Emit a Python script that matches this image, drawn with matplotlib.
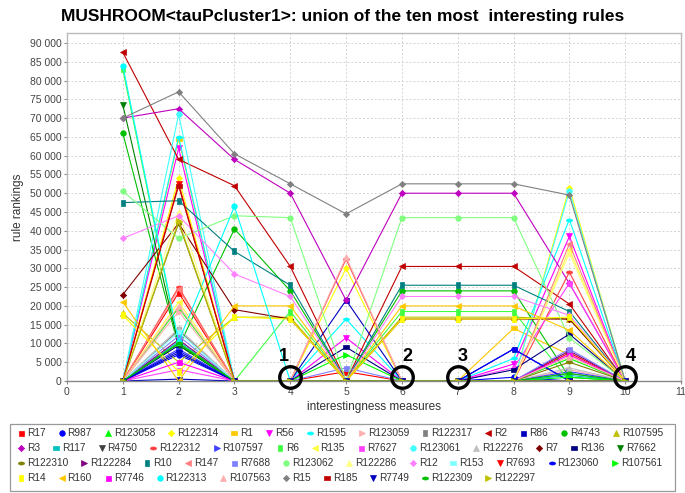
import matplotlib
matplotlib.use("Agg")
import matplotlib.pyplot as plt
import numpy as np
from matplotlib.ticker import FuncFormatter, MultipleLocator

plt.rcParams['font.family'] = ['Liberation Sans', 'DejaVu Sans']

# x positions (interestingness measures)
measures = [1, 2, 3, 4, 5, 6, 7, 8, 9, 10]

# rule names, in legend order
rule_names = ["R17", "R987", "R123058", "R122314", "R1", "R56", "R1595", "R123059",
              "R122317", "R2", "R86", "R4743", "R107595",
              "R3", "R117", "R4750", "R122312", "R107597", "R6", "R135", "R7627",
              "R123061", "R122276", "R7", "R136", "R7662",
              "R122310", "R122284", "R10", "R147", "R7688", "R123062", "R122286",
              "R12", "R153", "R7693", "R123060", "R107561",
              "R14", "R160", "R7746", "R122313", "R107563", "R15", "R185", "R7749",
              "R122309", "R122297"]

# rankings of each rule for measures 1..10
rankings = [
    [0, 23500, 0, 0, 2500, 0, 0, 0, 7500, 0],            # R17
    [0, 7000, 0, 0, 0, 0, 0, 1000, 0, 0],                # R987
    [0, 19500, 0, 0, 0, 0, 0, 0, 6000, 0],               # R123058
    [0, 54000, 0, 0, 30000, 0, 0, 0, 51500, 0],          # R122314
    [0, 64500, 0, 0, 0, 0, 0, 14000, 7000, 0],           # R1
    [0, 62000, 0, 0, 11500, 0, 0, 4500, 38500, 0],       # R56
    [0, 65000, 0, 0, 16500, 0, 0, 6000, 43000, 0],       # R1595
    [0, 18500, 0, 0, 0, 0, 0, 0, 3000, 0],               # R123059
    [0, 13500, 0, 0, 0, 0, 0, 0, 2000, 0],               # R122317
    [87500, 59000, 52000, 30500, 0, 30500, 30500, 30500, 20500, 0],  # R2
    [0, 500, 0, 0, 21500, 0, 0, 8500, 0, 0],             # R86
    [66000, 9000, 40500, 24000, 0, 24000, 24000, 24000, 1000, 0],    # R4743
    [18000, 5000, 17000, 17000, 0, 17000, 17000, 17000, 16500, 0],   # R107595
    [70000, 72500, 59000, 50000, 21500, 50000, 50000, 50000, 26000, 0],  # R3
    [0, 10500, 0, 0, 0, 0, 0, 0, 1500, 0],               # R117
    [0, 10000, 0, 0, 0, 0, 0, 0, 0, 0],                  # R4750
    [0, 25000, 0, 0, 32500, 0, 0, 0, 29000, 0],          # R122312
    [0, 8500, 0, 0, 0, 0, 0, 0, 2500, 0],                # R107597
    [83000, 10000, 0, 18500, 0, 18500, 18500, 18500, 0, 0],  # R6
    [0, 21000, 0, 0, 0, 0, 0, 0, 35000, 0],              # R135
    [0, 3000, 0, 0, 0, 0, 0, 3500, 26000, 0],            # R7627
    [0, 71000, 0, 0, 0, 0, 0, 0, 50500, 0],              # R123061
    [0, 14000, 0, 0, 0, 0, 0, 0, 3500, 0],               # R122276
    [23000, 42000, 19000, 16500, 0, 16500, 16500, 16500, 16500, 0],  # R7
    [0, 9500, 0, 0, 9000, 0, 0, 3000, 12500, 0],         # R136
    [73500, 9500, 0, 0, 0, 0, 0, 0, 0, 0],               # R7662
    [0, 42000, 0, 0, 0, 0, 0, 0, 5000, 0],               # R122310
    [0, 11000, 0, 0, 0, 0, 0, 0, 8000, 0],               # R122284
    [47500, 48000, 34500, 25500, 0, 25500, 25500, 25500, 18500, 0],  # R10
    [0, 24500, 0, 0, 0, 0, 0, 0, 36500, 0],              # R147
    [0, 12000, 0, 0, 3500, 0, 0, 0, 8500, 0],            # R7688
    [50500, 38000, 44000, 43500, 0, 43500, 43500, 43500, 11500, 0],  # R123062
    [0, 45000, 0, 0, 0, 0, 0, 0, 34000, 0],              # R122286
    [38000, 44000, 28500, 22500, 0, 22500, 22500, 22500, 17500, 0],  # R12
    [0, 13000, 0, 0, 0, 0, 0, 0, 0, 0],                  # R153
    [0, 52500, 0, 0, 0, 0, 0, 0, 0, 0],                  # R7693
    [0, 8000, 0, 0, 0, 0, 0, 8500, 0, 0],                # R123060
    [0, 10000, 0, 0, 7000, 0, 0, 0, 1000, 0],            # R107561
    [17500, 2500, 17000, 16500, 0, 16500, 16500, 16500, 17000, 0],   # R14
    [21000, 0, 20000, 20000, 0, 20000, 20000, 20000, 13500, 0],      # R160
    [0, 5000, 0, 0, 0, 0, 0, 0, 7000, 0],                # R7746
    [84000, 10500, 46500, 0, 0, 0, 0, 0, 0, 0],          # R122313
    [0, 20000, 0, 0, 33000, 0, 0, 0, 6500, 0],           # R107563
    [70000, 77000, 60500, 52500, 44500, 52500, 52500, 52500, 49500, 0],  # R15
    [0, 52000, 0, 0, 0, 0, 0, 0, 0, 0],                  # R185
    [0, 7500, 0, 0, 0, 0, 0, 0, 0, 0],                   # R7749
    [0, 10000, 0, 0, 0, 0, 0, 0, 2000, 0],               # R122309
    [0, 42500, 0, 0, 0, 0, 0, 0, 0, 0],                  # R122297
]

# highlighted measures (circled points) and their labels
circled_x = [4, 6, 7, 10]
circled_labels = ["1", "2", "3", "4"]

# legend rows (how many entries on each line)
legend_rows = [13, 13, 12, 10]

# java-style colour cycle
palette = ["#FF0000", "#0000FF", "#00FF00", "#FFFF00", "#FFC800", "#FF00FF",
           "#00FFFF", "#FFAFAF", "#808080",
           "#C00000", "#0000C0", "#00C000", "#C0C000", "#C000C0", "#00C0C0",
           "#404040",
           "#FF4040", "#4040FF", "#40FF40", "#FFFF40", "#FF40FF", "#40FFFF",
           "#C0C0C0",
           "#800000", "#000080", "#008000", "#808000", "#800080", "#008080",
           "#FF8080", "#8080FF", "#80FF80", "#FFFF80", "#FF80FF", "#80FFFF"]

hrect = [(-1, -0.5), (1, -0.5), (1, 0.5), (-1, 0.5), (-1, -0.5)]
vrect = [(-0.5, -1), (0.5, -1), (0.5, 1), (-0.5, 1), (-0.5, -1)]
t = np.linspace(0, 2 * np.pi, 25)
hell = list(zip(np.cos(t), 0.5 * np.sin(t)))
shapes = ['s', 'o', '^', 'D', hrect, 'v', hell, '>', vrect, '<']
sizes = [3.6, 4.0, 4.2, 3.2, 4.4, 4.2, 4.4, 4.2, 4.4, 4.2]

fig = plt.figure(figsize=(6.85, 4.93), dpi=100)
ax = fig.add_axes([67 / 685, 1 - 381 / 493, 614 / 685, 348 / 493])

for i, (name, vals) in enumerate(zip(rule_names, rankings)):
    c = palette[i % len(palette)]
    m = shapes[i % len(shapes)]
    ax.plot(measures, vals, color=c, lw=0.8, marker=m,
            markersize=sizes[i % len(shapes)], markeredgewidth=0.5,
            markeredgecolor=c, label=name, zorder=2 + i * 0.01)

ax.set_xlim(0, 11)
ax.set_ylim(0, 92660)
ax.xaxis.set_major_locator(MultipleLocator(1))
ax.yaxis.set_major_locator(MultipleLocator(5000))
ax.yaxis.set_major_formatter(FuncFormatter(lambda v, p: f"{int(v):,}".replace(",", " ")))
ax.tick_params(labelsize=7.5, length=2, color='#888888', labelcolor='#444444', pad=2)
ax.grid(True, color='#d4d4d4', lw=0.7, linestyle=(0, (2, 2)))
ax.set_axisbelow(True)
for s in ax.spines.values():
    s.set_color('#bbbbbb')
    s.set_linewidth(1.0)
ax.spines['bottom'].set_color('#888888')

ax.set_xlabel("interestingness measures", fontsize=8.5, color='#333333', labelpad=3)
ax.set_ylabel("rule rankings", fontsize=8.5, color='#333333', labelpad=4)

fig.text(0.5, 1 - 17 / 493, "MUSHROOM<tauPcluster1>: union of the ten most  interesting rules",
         ha='center', va='center', fontsize=12.5, fontweight='bold')

# circled points
dx = [-6, 5, 5, 6]
for k, xv in enumerate(circled_x):
    ax.plot([xv], [1000], marker='o', markersize=15.5, mfc='none', mec='black',
            mew=2.4, clip_on=False, zorder=10)
    ax.annotate(circled_labels[k], (xv, 1000), xytext=(dx[k] * 0.72, 15),
                textcoords='offset points', ha='center', va='center',
                fontsize=13, fontweight='bold', zorder=11, annotation_clip=False)

# legend drawn as a flowing block (left aligned rows)
lax = fig.add_axes([0, 0, 1, 1])
lax.set_xlim(0, 685)
lax.set_ylim(493, 0)
lax.axis('off')
lax.add_patch(plt.Rectangle((10, 424), 665, 67, fill=False, ec='#999999', lw=0.9))

fig.canvas.draw()
r = fig.canvas.get_renderer()
px_per_unit = fig.bbox.width / 685

texts = []
for name in rule_names:
    tt = lax.text(0, 0, name, fontsize=7.3, color='#333333', va='center', ha='left')
    texts.append(tt)
widths = [tt.get_window_extent(r).width / px_per_unit for tt in texts]

# gap chosen so first row spans the box
n0 = legend_rows[0]
span = 663 - 18
used = sum(widths[:n0]) + n0 * 9
gap = (span - used) / (n0 - 1)

row_y = [433, 448, 463, 478]
idx = 0
for ri, n in enumerate(legend_rows):
    x = 18
    for j in range(n):
        i = idx + j
        c = palette[i % len(palette)]
        lax.plot([x + 3], [row_y[ri]], marker=shapes[i % len(shapes)], color=c,
                 markersize=sizes[i % len(shapes)], mec=c, mew=0.5, ls='none')
        texts[i].set_position((x + 9, row_y[ri]))
        x += 9 + widths[i] + gap
    idx += n

fig.savefig("out.png", dpi=100)
